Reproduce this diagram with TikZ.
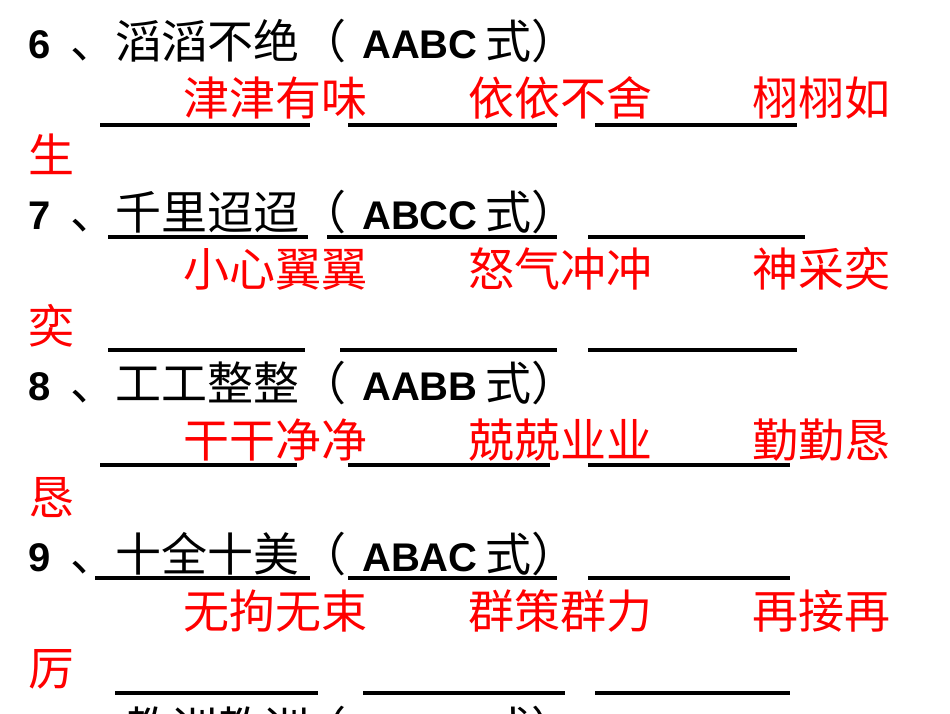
\documentclass[tikz,border=0pt]{standalone}
\usepackage{fontspec}
\setmainfont{Liberation Sans}
\newfontfamily\cjk{Noto Sans CJK SC}
\begin{document}
\begin{tikzpicture}[x=1pt,y=-1pt,
  bk/.style={anchor=base west,inner sep=0pt,font=\fontsize{46}{46}\selectfont\cjk},
  lat/.style={anchor=base west,inner sep=0pt,font=\fontsize{40}{40}\selectfont\bfseries},
  rd/.style={anchor=base west,inner sep=0pt,text=red,font=\fontsize{46}{46}\selectfont\cjk},
  ul/.style={line width=3.5pt}]
\useasboundingbox (0,0) rectangle (950,713);
\clip (0,0) rectangle (950,713);
\newcommand\hdr[6]{%
  \node[lat] (n#6) at (28,#1) {#2};
  \node[bk] (d#6) at (#3,#1) {、};
  \node[bk] (w#6) at (115,#1) {#4};
  \node[bk] (l#6) at (300,#1) {（};
  \node[lat] (p#6) at (362,#1) {#5};
  \node[bk] (s#6) at (485,#1) {式）};}
\newcommand\reds[5]{%
  \node[rd] (a#5) at (183,#1) {#2};
  \node[rd] (b#5) at (468,#1) {#3};
  \node[rd] (c#5) at (752,#1) {#4};}
\hdr{58}{6}{70}{滔滔不绝}{AABC}{1}
\reds{115}{津津有味}{依依不舍}{栩栩如}{1}
\node[rd] (e1) at (28,172) {生};
\draw[ul] (100,125) -- (310,125) (348,125) -- (557,125) (595,125) -- (797,125);
\hdr{229}{7}{70}{千里迢迢}{ABCC}{2}
\draw[ul] (108,237) -- (308,237) (327,237) -- (557,237) (588,237) -- (805,237);
\reds{286}{小心翼翼}{怒气冲冲}{神采奕}{2}
\node[rd] (e2) at (28,343) {奕};
\draw[ul] (108,350) -- (305,350) (340,350) -- (557,350) (588,350) -- (797,350);
\hdr{400}{8}{70}{工工整整}{AABB}{3}
\reds{457}{干干净净}{兢兢业业}{勤勤恳}{3}
\draw[ul] (100,465) -- (297,465) (348,465) -- (550,465) (588,465) -- (790,465);
\node[rd] (e3) at (28,514) {恳};
\hdr{571}{9}{70}{十全十美}{ABAC}{4}
\draw[ul] (95,578) -- (310,578) (348,578) -- (557,578) (588,578) -- (790,578);
\reds{628}{无拘无束}{群策群力}{再接再}{4}
\node[rd] (e4) at (28,685) {厉};
\draw[ul] (115,693) -- (318,693) (363,693) -- (565,693) (595,693) -- (790,693);
\node[lat] (n5) at (28,745) {10};
\node[bk] (d5) at (80,745) {、};
\node[bk] (w5) at (125,745) {教训教训};
\node[bk] (l5) at (300,745) {（};
\node[lat] (p5) at (362,745) {ABAB};
\node[bk] (s5) at (485,745) {式）};
\end{tikzpicture}
\end{document}
